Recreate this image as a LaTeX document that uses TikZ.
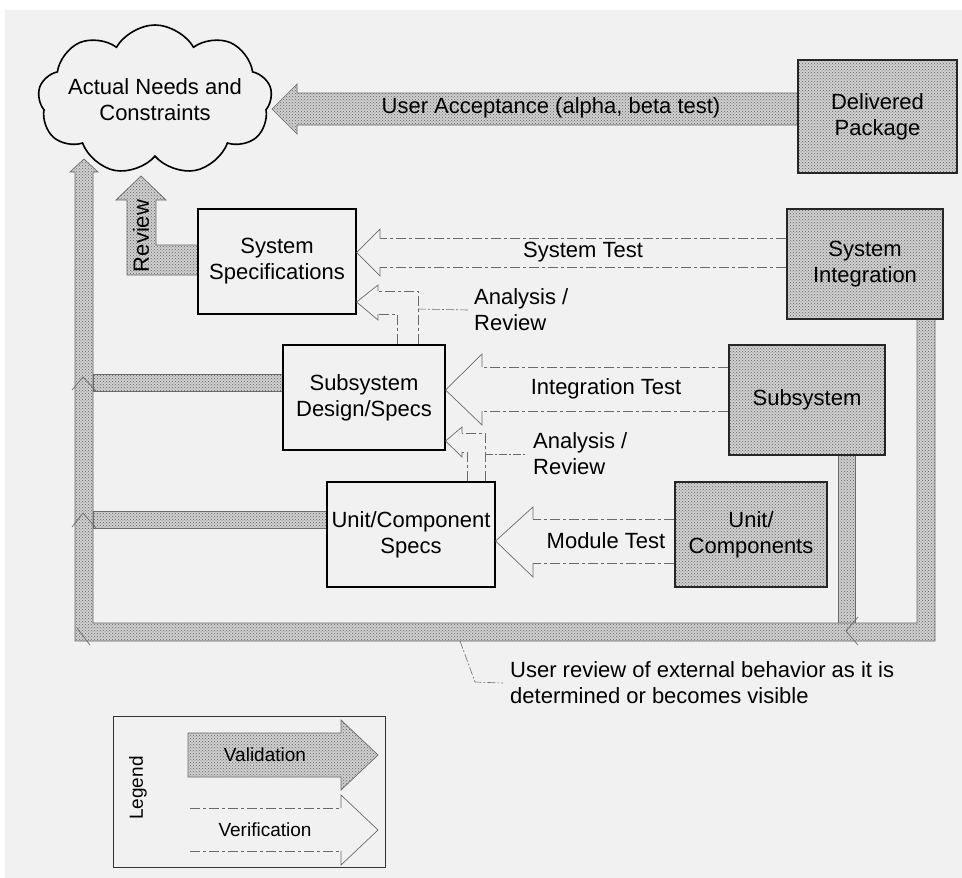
\documentclass[tikz,border=0pt]{standalone}
\usepackage{fontspec}
\setmainfont{Liberation Sans}
\usetikzlibrary{shapes.symbols,patterns,backgrounds}

\definecolor{paper}{HTML}{F1F1F1}
\definecolor{hatchbase}{HTML}{CFCFCF}
\definecolor{hatchink}{HTML}{666666}
\definecolor{outline}{HTML}{6A6A6A}

\tikzset{
  lbl/.style={font=\fontsize{22}{26}\selectfont, align=center, inner sep=0pt},
  legendlbl/.style={font=\fontsize{19}{23}\selectfont, inner sep=0pt},
  specbox/.style={draw=black, line width=1.1pt, fill=paper, inner sep=0pt, lbl},
  hatchbox/.style={draw=black!85, line width=1.1pt, inner sep=0pt, lbl,
    preaction={fill=hatchbase}, pattern=crosshatch dots, pattern color=hatchink},
  validflow/.style={preaction={fill=hatchbase}, pattern=crosshatch dots,
    pattern color=hatchink, draw=outline, line width=0.7pt},
  verifshaft/.style={draw=outline, line width=0.7pt,
    dash pattern=on 10pt off 3pt on 3pt off 3pt},
  verifhead/.style={draw=outline, line width=0.7pt},
  tick/.style={draw=outline, line width=0.7pt},
  leader/.style={draw=outline, line width=0.6pt, dash pattern=on 8pt off 2pt on 2pt off 2pt}
}

\begin{document}
\begin{tikzpicture}[x=1pt,y=-1pt]
\useasboundingbox (0,0) rectangle (962,878);

% ---------- blocks ----------
\node[cloud, cloud puffs=9, cloud puff arc=120, draw=black, line width=1.6pt,
      fill=paper, cloud ignores aspect, minimum width=234pt, minimum height=150pt,
      inner sep=0pt] (needs) at (155,100) {};
\node[lbl] (needstxt) at (needs.center) {Actual Needs and\\Constraints};

\node[hatchbox, minimum width=159pt, minimum height=113pt] (delpkg) at (877.5,116.5)
  {Delivered\\Package};
\node[hatchbox, minimum width=156pt, minimum height=110pt] (sysint) at (865,264)
  {System\\Integration};
\node[hatchbox, minimum width=156pt, minimum height=110pt] (subsys) at (807,400)
  {Subsystem};
\node[hatchbox, minimum width=152pt, minimum height=105pt] (unitcomp) at (751,534.5)
  {Unit/\\Components};

\node[specbox, minimum width=158pt, minimum height=105pt] (sysspec) at (277,261.5)
  {System\\Specifications};
\node[specbox, minimum width=162pt, minimum height=105pt] (subdes) at (364,397.5)
  {Subsystem\\Design/Specs};
\node[specbox, minimum width=168pt, minimum height=105pt] (unitspec) at (411,534.5)
  {Unit/Component\\Specs};

% ---------- labels ----------
\node[lbl] (accept) at (551,108) {User Acceptance (alpha, beta test)};
\node[lbl] (systest) at (583,252) {System Test};
\node[lbl] (inttest) at (606,389) {Integration Test};
\node[lbl] (modtest) at (606,541) {Module Test};
\node[lbl, align=left, anchor=west] (anaone) at (474,310) {Analysis /\\Review};
\node[lbl, align=left, anchor=west] (anatwo) at (533,454) {Analysis /\\Review};
\node[lbl, rotate=90] (review) at (141,236) {Review};
\node[lbl, align=left, anchor=west] (usernote) at (510,683)
  {User review of external behavior as it is\\determined or becomes visible};

% ---------- legend ----------
\node[draw=black!80, line width=1pt, minimum width=272pt, minimum height=151pt,
      inner sep=0pt] (legendbox) at (249,791.5) {};
\node[legendlbl, rotate=90] (legendttl) at (138,788) {Legend};
\node[legendlbl] (validtxt) at (265,755) {Validation};
\node[legendlbl] (veriftxt) at (265,830) {Verification};

% ---------- flows, under the blocks ----------
\begin{pgfonlayer}{background}
  \fill[white] (0,0) rectangle (962,878);
  \fill[paper] (5,10) rectangle (962,878);

  % user acceptance
  \path[validflow] (delpkg.west |- 0,93) -- (297,93) -- (297,84)
    -- (272,109) -- (297,134) -- (297,125) -- (delpkg.west |- 0,125) -- cycle;

  % review of the system specifications
  \path[validflow] (sysspec.west |- 0,245) -- (156,245) -- (156,200) -- (166,200)
    -- (141,176) -- (116,200) -- (127,200) -- (127,275) -- (sysspec.west |- 0,275) -- cycle;

  % subsystem column into the bottom return
  \path[validflow] (838,455) -- (838,630) -- (855,630) -- (855,455);

  % return path: system integration down, along the bottom, up to the needs
  \path[validflow] (sysint.south -| 935,0) -- (935,641) -- (75,641) -- (75,172)
    -- (70,172) -- (84,159) -- (98,172) -- (93,172) -- (93,623) -- (917,623)
    -- (sysint.south -| 917,0) -- cycle;

  % design and unit specs feeding the left return
  \path[validflow] (subdes.west |- 0,374) -- (93,374) -- (93,391) -- (subdes.west |- 0,391);
  \path[validflow] (unitspec.west |- 0,511) -- (93,511) -- (93,528) -- (unitspec.west |- 0,528);

  % junction marks
  \draw[tick] (72,390) -- (83,377) -- (96,391);
  \draw[tick] (72,527) -- (83,513) -- (96,528);
  \draw[tick] (858,617) -- (846,631) -- (858,645);
  \draw[tick] (77,628) -- (90,645);

  % legend, validation sample
  \path[validflow] (188,733) -- (341,733) -- (341,720) -- (378,755) -- (341,790)
    -- (341,777) -- (188,777) -- cycle;
\end{pgfonlayer}

% ---------- verification arrows ----------
% system test
\draw[verifshaft] (sysint.west |- 0,238) -- (380,238);
\draw[verifshaft] (sysint.west |- 0,267) -- (380,267);
\draw[verifhead] (380,238) -- (380,229) -- (sysspec.east |- 0,252.5) -- (380,276) -- (380,267);

% analysis / review, design up to system specs
\draw[verifshaft] (subdes.north -| 418,0) -- (418,291) -- (378,291);
\draw[verifshaft] (subdes.north -| 397,0) -- (397,314) -- (378,314);
\draw[verifhead] (378,291) -- (378,285) -- (sysspec.east |- 0,302) -- (378,320) -- (378,314);
\draw[leader] (418,309) -- ([xshift=-6pt]anaone.west);

% integration test
\draw[verifshaft] (subsys.west |- 0,367) -- (482,367);
\draw[verifshaft] (subsys.west |- 0,411) -- (482,411);
\draw[verifhead] (482,367) -- (482,354) -- (subdes.east |- 0,390) -- (482,425) -- (482,411);

% analysis / review, unit specs up to design
\draw[verifshaft] (unitspec.north -| 485,0) -- (485,433) -- (462,433);
\draw[verifshaft] (unitspec.north -| 467,0) -- (467,452) -- (462,452);
\draw[verifhead] (462,433) -- (462,427) -- (subdes.east |- 0,441) -- (462,457) -- (462,452);
\draw[leader] (485,454) -- ([xshift=-6pt]anatwo.west);

% module test
\draw[verifshaft] (unitcomp.west |- 0,519) -- (533,519);
\draw[verifshaft] (unitcomp.west |- 0,563) -- (533,563);
\draw[verifhead] (533,519) -- (533,507) -- (unitspec.east |- 0,541) -- (533,577) -- (533,563);

% note on the bottom return
\draw[leader] (460,641) -- (475,682) -- ([xshift=-7pt]usernote.west);

% legend, verification sample
\draw[verifshaft] (190,808) -- (341,808);
\draw[verifshaft] (190,851) -- (341,851);
\draw[verifhead] (341,808) -- (341,795) -- (378,830) -- (341,865) -- (341,851);

\end{tikzpicture}
\end{document}
